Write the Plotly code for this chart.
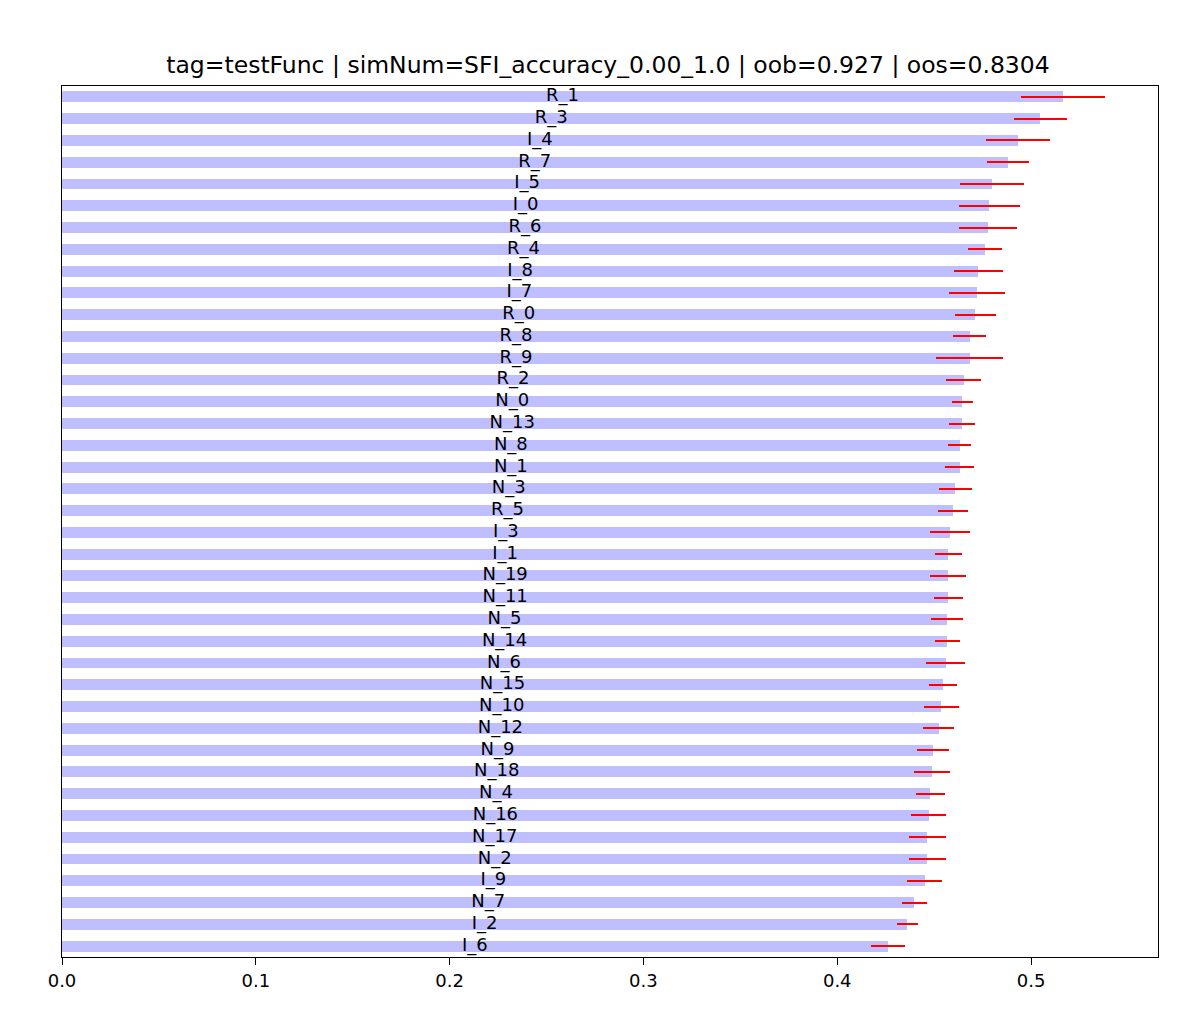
import plotly.graph_objects as go

# feature importance (mean) and std, top to bottom as in the picture
features = ["R_1", "R_3", "I_4", "R_7", "I_5", "I_0", "R_6", "R_4", "I_8", "I_7",
            "R_0", "R_8", "R_9", "R_2", "N_0", "N_13", "N_8", "N_1", "N_3", "R_5",
            "I_3", "I_1", "N_19", "N_11", "N_5", "N_14", "N_6", "N_15", "N_10", "N_12",
            "N_9", "N_18", "N_4", "N_16", "N_17", "N_2", "I_9", "N_7", "I_2", "I_6"]
mean = [0.5165, 0.5048, 0.4931, 0.4879, 0.4799, 0.4785, 0.4778, 0.4763, 0.4727, 0.4720,
        0.4713, 0.4684, 0.4684, 0.4653, 0.4646, 0.4646, 0.4632, 0.4632, 0.4609, 0.4596,
        0.4580, 0.4573, 0.4573, 0.4573, 0.4567, 0.4567, 0.4560, 0.4546, 0.4537, 0.4524,
        0.4494, 0.4487, 0.4479, 0.4472, 0.4465, 0.4465, 0.4451, 0.4398, 0.4362, 0.4260]
std = [0.0218, 0.0136, 0.0166, 0.0108, 0.0166, 0.0159, 0.0152, 0.0086, 0.0126, 0.0145,
       0.0104, 0.0086, 0.0173, 0.0090, 0.0053, 0.0067, 0.0060, 0.0075, 0.0086, 0.0078,
       0.0104, 0.0070, 0.0093, 0.0075, 0.0082, 0.0064, 0.0100, 0.0072, 0.0090, 0.0080,
       0.0083, 0.0093, 0.0075, 0.0090, 0.0094, 0.0097, 0.0090, 0.0065, 0.0053, 0.0087]

title = "tag=testFunc | simNum=SFI_accuracy_0.00_1.0 | oob=0.927 | oos=0.8304"
font = "DejaVu Sans"

fig = go.Figure()

fig.add_trace(go.Bar(
    x=mean, y=features, orientation="h",
    width=0.5,
    marker=dict(color="rgba(0,0,255,0.25)", line=dict(width=0)),
    error_x=dict(type="data", array=std, color="red", thickness=2, width=0),
    showlegend=False,
))

# feature names written at the middle of each bar
fig.add_trace(go.Scatter(
    x=[m / 2 for m in mean], y=features,
    mode="text", text=features, textposition="middle center",
    textfont=dict(family=font, size=18, color="black"),
    showlegend=False, hoverinfo="skip",
))

fig.update_layout(
    width=1200, height=1031,
    paper_bgcolor="white", plot_bgcolor="white",
    margin=dict(l=54, r=50, t=78, b=82),
    font=dict(family=font, color="black"),
    title=dict(text=title, x=0.5, xanchor="center", y=0.945, yanchor="middle",
               font=dict(family=font, size=23.5, color="black")),
    bargap=0,
)
fig.update_xaxes(
    range=[0, 0.5655], tickvals=[0, 0.1, 0.2, 0.3, 0.4, 0.5],
    ticktext=["0.0", "0.1", "0.2", "0.3", "0.4", "0.5"],
    ticks="outside", ticklen=7, tickcolor="black", tickfont=dict(size=18),
    showgrid=False, zeroline=False,
    showline=True, linecolor="black", linewidth=1, mirror=True,
)
fig.update_yaxes(
    categoryorder="array", categoryarray=features,
    range=[39.5, -0.5], showticklabels=False, ticks="",
    showgrid=False, zeroline=False,
    showline=True, linecolor="black", linewidth=1, mirror=True,
)

fig.write_html("out.html")
